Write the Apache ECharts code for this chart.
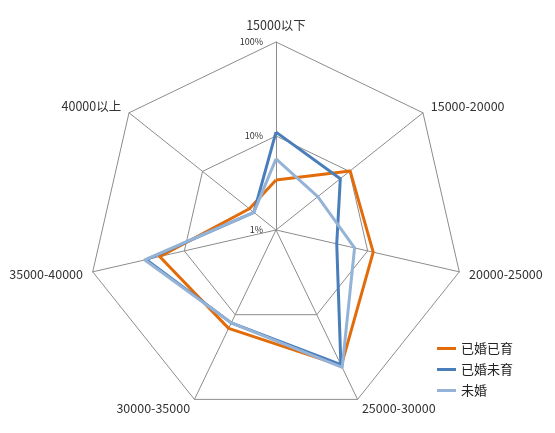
<!DOCTYPE html>
<html><head><meta charset="utf-8">
<script src="https://cdn.jsdelivr.net/npm/echarts@6/dist/echarts.min.js"></script>
<style>html,body{margin:0;padding:0;background:#fff}#c{width:555px;height:433px}</style>
</head><body><div id="c"></div>
<script>
var categories = ['15000以下','15000-20000','20000-25000','25000-30000','30000-35000','35000-40000','40000以上'];
var seriesNames = ['已婚已育','已婚未育','未婚'];
// values in percent
var marriedWithKids = [3.4, 10.2, 11.5, 40, 14.5, 18.6, 2.3];
var marriedNoKids   = [11, 7.5, 4.6, 39, 12.5, 26, 2.0];
var unmarried       = [5.7, 3.7, 7.2, 42, 12.5, 27, 2.0];
var tickLabels = ['1%','10%','100%'];
var colors = ['#E36C0A','#4A7EBB','#95B3D7'];

// ECharts radar runs counter-clockwise; reorder so categories read clockwise from top
var n = categories.length;
var order = [0];
for (var k = n - 1; k >= 1; k--) order.push(k);
function reorder(a){ return order.map(function(i){ return a[i]; }); }
function lg(a){ return reorder(a).map(function(v){ return Math.log10(v); }); }

var font = '"Noto Sans CJK SC", "Noto Sans", sans-serif';
var indicators = reorder(categories).map(function(c, i){
  var o = {name: c, min: 0, max: 2};
  if (i === 0) {
    o.axisLabel = {show: true, color: '#333', fontSize: 9, fontFamily: font, margin: 13,
      formatter: function(v){ return tickLabels[Math.round(v)]; }};
  }
  return o;
});

var chart = echarts.init(document.getElementById('c'));
chart.setOption({
  animation: false,
  color: colors,
  legend: {
    orient: 'vertical', left: 432, top: 337,
    itemWidth: 19, itemHeight: 3, itemGap: 8, icon: 'rect',
    textStyle: {fontSize: 13, fontFamily: font, color: '#222'},
    data: seriesNames
  },
  radar: {
    center: [276, 230], radius: 188, shape: 'polygon', splitNumber: 2,
    startAngle: 90,
    indicator: indicators,
    nameGap: 10,
    axisName: {color: '#333', fontSize: 12.5, fontFamily: font},
    axisLine: {lineStyle: {color: '#8c8c8c', width: 1}},
    splitLine: {lineStyle: {color: '#8c8c8c', width: 1}},
    splitArea: {show: false},
    axisTick: {show: false},
    axisLabel: {show: false}
  },
  series: [{
    type: 'radar', symbol: 'none',
    data: [
      {name: seriesNames[0], value: lg(marriedWithKids), lineStyle: {width: 3, color: colors[0]}, itemStyle: {color: colors[0]}},
      {name: seriesNames[1], value: lg(marriedNoKids), lineStyle: {width: 3, color: colors[1]}, itemStyle: {color: colors[1]}},
      {name: seriesNames[2], value: lg(unmarried), lineStyle: {width: 3, color: colors[2]}, itemStyle: {color: colors[2]}}
    ]
  }]
});
</script></body></html>
